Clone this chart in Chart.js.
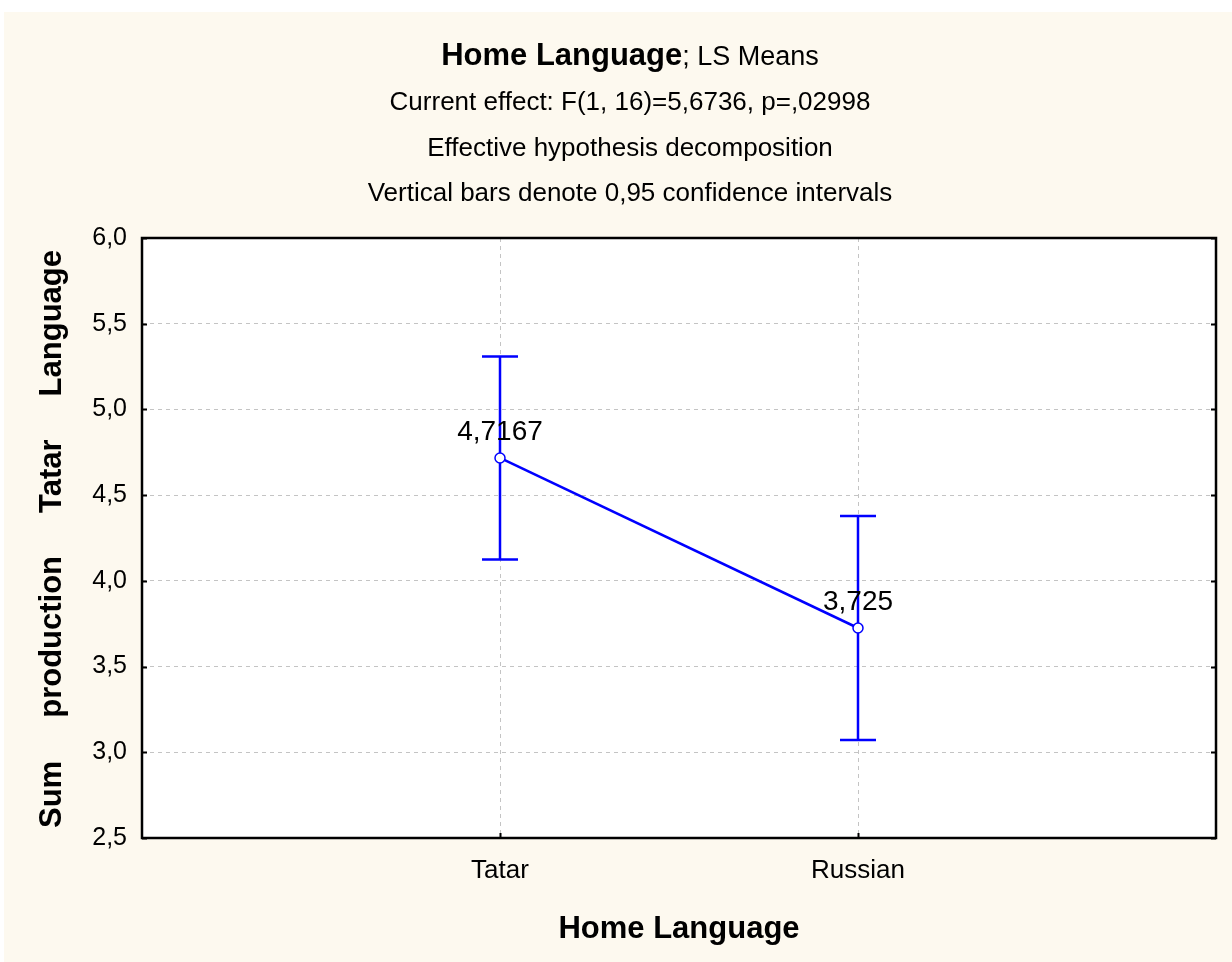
<!DOCTYPE html>
<html>
<head>
<meta charset="utf-8">
<title>Home Language; LS Means</title>
<script src="https://cdn.jsdelivr.net/npm/chart.js@4.4.0/dist/chart.umd.min.js"></script>
<style>
    html, body { margin: 0; padding: 0; background: #ffffff; }
    #wrap { width: 1232px; height: 962px; position: relative; }
</style>
</head>
<body>
<div id="wrap"><canvas id="lsMeansChart"></canvas></div>
<script>
// Data
const categories = ['Tatar', 'Russian'];
const lsMeans = [4.7167, 3.725];
const ciLower = [4.125, 3.072];
const ciUpper = [5.309, 4.378];
const meanLabels = ['4,7167', '3,725'];
const yTicks = [2.5, 3.0, 3.5, 4.0, 4.5, 5.0, 5.5, 6.0];

const titleLines = [
    'Current effect: F(1, 16)=5,6736, p=,02998',
    'Effective hypothesis decomposition',
    'Vertical bars denote 0,95 confidence intervals'
];
const yTitleWords = ['Sum', 'production', 'Tatar', 'Language'];
const xTitle = 'Home Language';

const FONT = '"Liberation Sans", Arial, sans-serif';
const BLUE = '#0000ff';

// background, plot box and titles
const decorPlugin = {
    id: 'decor',
    beforeDraw(chart) {
        const ctx = chart.ctx;
        const a = chart.chartArea;
        ctx.save();
        ctx.fillStyle = '#fdf9ef';
        ctx.fillRect(4, 12, chart.width - 4, chart.height - 12);
        ctx.fillStyle = '#ffffff';
        ctx.fillRect(a.left, a.top, a.right - a.left, a.bottom - a.top);
        ctx.restore();
    },
    afterDraw(chart) {
        const ctx = chart.ctx;
        const a = chart.chartArea;
        const yScale = chart.scales.y;
        const xScale = chart.scales.x;
        ctx.save();

        // plot frame
        ctx.strokeStyle = '#000000';
        ctx.lineWidth = 2.5;
        ctx.strokeRect(a.left, a.top, a.right - a.left, a.bottom - a.top);

        // small inward ticks
        ctx.lineWidth = 2;
        ctx.beginPath();
        yTicks.forEach(v => {
            const py = Math.round(yScale.getPixelForValue(v)) + 0.5;
            ctx.moveTo(a.left, py); ctx.lineTo(a.left + 5, py);
            ctx.moveTo(a.right, py); ctx.lineTo(a.right - 5, py);
        });
        categories.forEach((c, i) => {
            const px = Math.round(xScale.getPixelForValue(i + 1)) + 0.5;
            ctx.moveTo(px, a.bottom); ctx.lineTo(px, a.bottom - 5);
        });
        ctx.stroke();

        // main title: bold part + normal part
        ctx.fillStyle = '#000000';
        ctx.textBaseline = 'alphabetic';
        ctx.textAlign = 'left';
        const boldPart = 'Home Language';
        const normPart = '; LS Means';
        ctx.font = 'bold 31px ' + FONT;
        const wB = ctx.measureText(boldPart).width;
        ctx.font = '27px ' + FONT;
        const wN = ctx.measureText(normPart).width;
        let tx = 630 - (wB + wN) / 2;
        ctx.font = 'bold 31px ' + FONT;
        ctx.fillText(boldPart, tx, 65);
        ctx.font = '27px ' + FONT;
        ctx.fillText(normPart, tx + wB, 65);

        ctx.font = '26px ' + FONT;
        ctx.textAlign = 'center';
        const baselines = [110, 156, 201];
        titleLines.forEach((t, i) => ctx.fillText(t, 630, baselines[i]));

        // x axis title
        ctx.font = 'bold 31px ' + FONT;
        ctx.fillText(xTitle, (a.left + a.right) / 2, 938);

        // y axis title, words spread along the axis
        ctx.translate(61, 828);
        ctx.rotate(-Math.PI / 2);
        ctx.textAlign = 'left';
        const widths = yTitleWords.map(w => ctx.measureText(w).width);
        const total = widths.reduce((s, w) => s + w, 0);
        const gap = (578 - total) / (yTitleWords.length - 1);
        let off = 0;
        yTitleWords.forEach((w, i) => {
            ctx.fillText(w, off, 0);
            off += widths[i] + gap;
        });
        ctx.restore();
    }
};

// confidence interval whiskers and mean labels
const errorBarPlugin = {
    id: 'errorBars',
    beforeDatasetsDraw(chart) {
        const ctx = chart.ctx;
        const xScale = chart.scales.x;
        const yScale = chart.scales.y;
        ctx.save();
        ctx.strokeStyle = BLUE;
        ctx.lineWidth = 2.5;
        ctx.beginPath();
        categories.forEach((c, i) => {
            const px = xScale.getPixelForValue(i + 1);
            const yHi = yScale.getPixelForValue(ciUpper[i]);
            const yLo = yScale.getPixelForValue(ciLower[i]);
            ctx.moveTo(px, yHi); ctx.lineTo(px, yLo);
            ctx.moveTo(px - 18, yHi); ctx.lineTo(px + 18, yHi);
            ctx.moveTo(px - 18, yLo); ctx.lineTo(px + 18, yLo);
        });
        ctx.stroke();
        ctx.restore();
    },
    afterDatasetsDraw(chart) {
        const ctx = chart.ctx;
        const meta = chart.getDatasetMeta(0);
        ctx.save();
        ctx.fillStyle = '#000000';
        ctx.font = '28px ' + FONT;
        ctx.textAlign = 'center';
        ctx.textBaseline = 'alphabetic';
        meta.data.forEach((pt, i) => {
            ctx.fillText(meanLabels[i], pt.x, pt.y - 18);
        });
        ctx.restore();
    }
};

const ctx = document.getElementById('lsMeansChart').getContext('2d');
new Chart(ctx, {
    type: 'line',
    data: {
        datasets: [{
            label: 'LS Means',
            data: lsMeans.map((v, i) => ({ x: i + 1, y: v })),
            borderColor: BLUE,
            borderWidth: 2.5,
            pointRadius: 5,
            pointBackgroundColor: '#ffffff',
            pointBorderColor: BLUE,
            pointBorderWidth: 1.5,
            tension: 0
        }]
    },
    options: {
        responsive: true,
        maintainAspectRatio: false,
        animation: false,
        layout: { padding: { left: 4, top: 238, right: 16, bottom: 0 } },
        plugins: {
            legend: { display: false },
            tooltip: { enabled: false },
            title: { display: false }
        },
        scales: {
            x: {
                type: 'linear',
                min: 0,
                max: 3,
                afterBuildTicks: scale => {
                    scale.ticks = categories.map((c, i) => ({ value: i + 1 }));
                },
                afterFit: scale => { scale.height = 124; },
                border: { display: false, dash: [4, 4] },
                grid: { color: '#c4c4c4', lineWidth: 1, drawTicks: false },
                ticks: {
                    color: '#000000',
                    padding: 17,
                    font: { family: FONT, size: 26 },
                    maxRotation: 0,
                    callback: v => categories[v - 1]
                }
            },
            y: {
                min: 2.5,
                max: 6.0,
                afterBuildTicks: scale => {
                    scale.ticks = yTicks.map(v => ({ value: v }));
                },
                afterFit: scale => { scale.width = 138; },
                border: { display: false, dash: [4, 4] },
                grid: { color: '#c4c4c4', lineWidth: 1, drawTicks: false },
                ticks: {
                    color: '#000000',
                    padding: 15,
                    font: { family: FONT, size: 25 },
                    callback: v => v.toFixed(1).replace('.', ',')
                }
            }
        }
    },
    plugins: [decorPlugin, errorBarPlugin]
});
</script>
</body>
</html>
